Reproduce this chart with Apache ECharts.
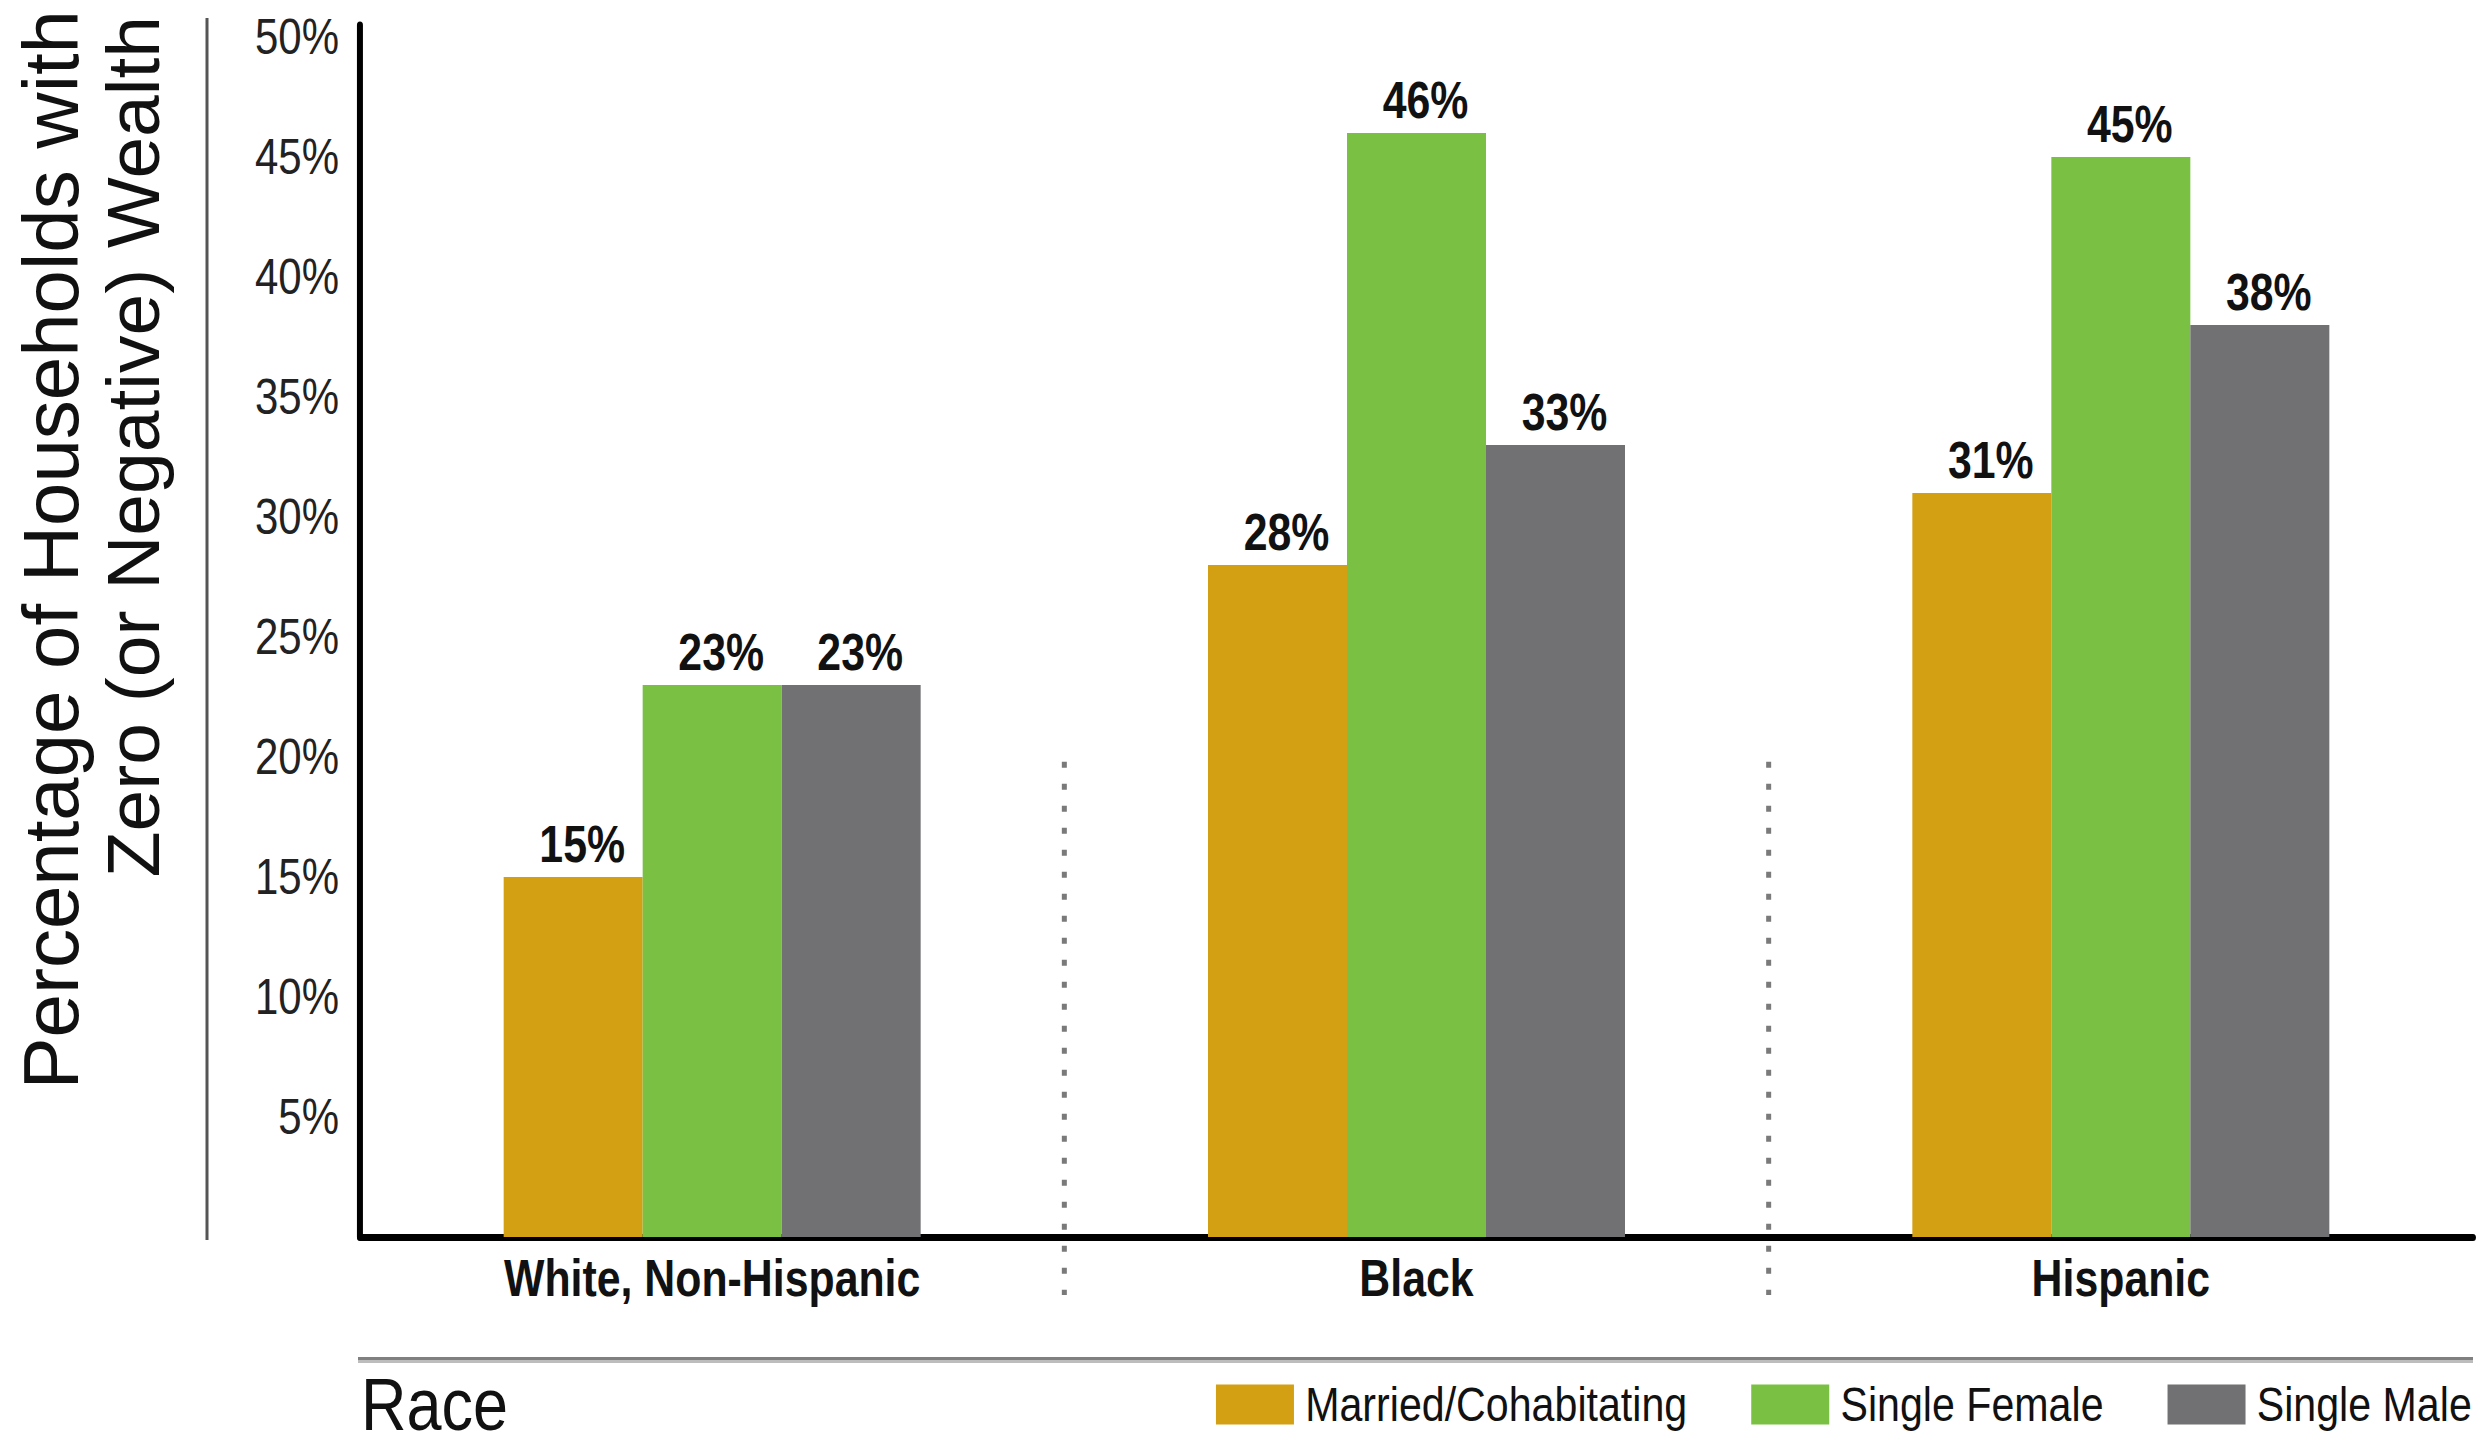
<!DOCTYPE html>
<html>
<head>
<meta charset="utf-8">
<script src="https://cdn.jsdelivr.net/npm/echarts@6/dist/echarts.min.js"></script>
<style>
html,body{margin:0;padding:0;background:#fff;overflow:hidden;width:2478px;height:1445px;}
#chart{width:2950px;height:1445px;transform:scaleX(0.84);transform-origin:0 0;}
</style>
</head>
<body>
<div id="chart"></div>
<script>
var categories = ['White, Non-Hispanic', 'Black', 'Hispanic'];
var seriesNames = ['Married/Cohabitating', 'Single Female', 'Single Male'];
var married = [15, 28, 31];
var singleFemale = [23, 46, 45];
var singleMale = [23, 33, 38];
var yAxisTitle = ['Percentage of Households with', 'Zero (or Negative) Wealth'];
var xAxisTitle = 'Race';

// The page is horizontally condensed by S (to mimic the condensed typeface);
// horizontal layout values below are given in screen pixels and divided by S.
var S = 0.84;
function X(v) { return v / S; }

var FONT = "'Liberation Sans', Arial, Helvetica, sans-serif";
var colors = ['#D4A013', '#7AC143', '#717073'];

var chart = echarts.init(document.getElementById('chart'), null, { renderer: 'svg', width: 2950, height: 1445 });

function barSeries(name, data, color) {
  return {
    name: name,
    type: 'bar',
    data: data,
    barWidth: X(139),
    barGap: '0%',
    itemStyle: { color: color },
    label: {
      show: true,
      position: 'top',
      distance: 7,
      offset: [X(9), 0],
      formatter: '{c}%',
      fontFamily: FONT,
      fontWeight: 'bold',
      fontSize: 51,
      color: '#111'
    }
  };
}

var option = {
  animation: false,
  backgroundColor: '#fff',
  grid: { left: X(360), right: X(5), top: 25, bottom: 208, containLabel: false },
  legend: {
    right: X(2),
    top: 1375,
    itemWidth: X(78),
    itemHeight: 40,
    itemGap: X(64),
    icon: 'rect',
    data: seriesNames,
    textStyle: { fontFamily: FONT, fontSize: 49, color: '#111', padding: [0, 0, 0, X(7)] }
  },
  xAxis: {
    type: 'category',
    data: categories,
    axisLine: { show: true, lineStyle: { color: '#000', width: 7 } },
    axisTick: { show: false },
    axisLabel: { margin: 16, fontFamily: FONT, fontWeight: 'bold', fontSize: 51, color: '#111' },
    splitLine: { show: false }
  },
  yAxis: {
    type: 'value',
    min: 0,
    max: 50.5,
    interval: 5,
    axisLine: { show: true, lineStyle: { color: '#000', width: X(6) } },
    axisTick: { show: false },
    splitLine: { show: false },
    axisLabel: {
      margin: X(21),
      showMinLabel: false,
      showMaxLabel: false,
      fontFamily: FONT,
      fontSize: 50,
      color: '#222',
      formatter: function (v) { return (v % 5 === 0 && v > 0) ? v + '%' : ''; }
    }
  },
  series: [
    barSeries(seriesNames[0], married, colors[0]),
    barSeries(seriesNames[1], singleFemale, colors[1]),
    barSeries(seriesNames[2], singleMale, colors[2])
  ]
};
chart.setOption(option);

// decorations positioned via the chart's own scales
var c0 = chart.convertToPixel({ xAxisIndex: 0 }, categories[0]);
var c1 = chart.convertToPixel({ xAxisIndex: 0 }, categories[1]);
var c2 = chart.convertToPixel({ xAxisIndex: 0 }, categories[2]);
var sep1 = (c0 + c1) / 2, sep2 = (c1 + c2) / 2;
var yTop = chart.convertToPixel({ yAxisIndex: 0 }, 19.8);
var y0 = chart.convertToPixel({ yAxisIndex: 0 }, 0);
var dotStyle = { stroke: '#7a7a7a', lineWidth: X(5), lineDash: [6, 16] };

chart.setOption({
  graphic: [
    { type: 'line', shape: { x1: sep1, y1: yTop, x2: sep1, y2: y0 + 58 }, style: dotStyle, z: 1 },
    { type: 'line', shape: { x1: sep2, y1: yTop, x2: sep2, y2: y0 + 58 }, style: dotStyle, z: 1 },
    { type: 'line', shape: { x1: X(207), y1: 18, x2: X(207), y2: 1240 }, style: { stroke: '#555', lineWidth: X(3) } },
    { type: 'line', shape: { x1: X(358), y1: 1358.5, x2: X(2473), y2: 1358.5 }, style: { stroke: '#808080', lineWidth: 3 } },
    { type: 'line', shape: { x1: X(358), y1: 1361.5, x2: X(2473), y2: 1361.5 }, style: { stroke: '#bdbdbd', lineWidth: 3 } },
    { type: 'text', x: X(51), y: 10, rotation: Math.PI / 2, scaleY: 1 / S,
      style: { text: yAxisTitle[0], fontFamily: FONT, fontSize: 78, fill: '#111', align: 'right', verticalAlign: 'middle' } },
    { type: 'text', x: X(133), y: 16, rotation: Math.PI / 2, scaleY: 1 / S,
      style: { text: yAxisTitle[1], fontFamily: FONT, fontSize: 75, fill: '#111', align: 'right', verticalAlign: 'middle' } },
    { type: 'text', x: X(361), y: 1404,
      style: { text: xAxisTitle, fontFamily: FONT, fontSize: 75, lineHeight: 62, fill: '#111', align: 'left', verticalAlign: 'middle' } }
  ]
});
</script>
</body>
</html>
